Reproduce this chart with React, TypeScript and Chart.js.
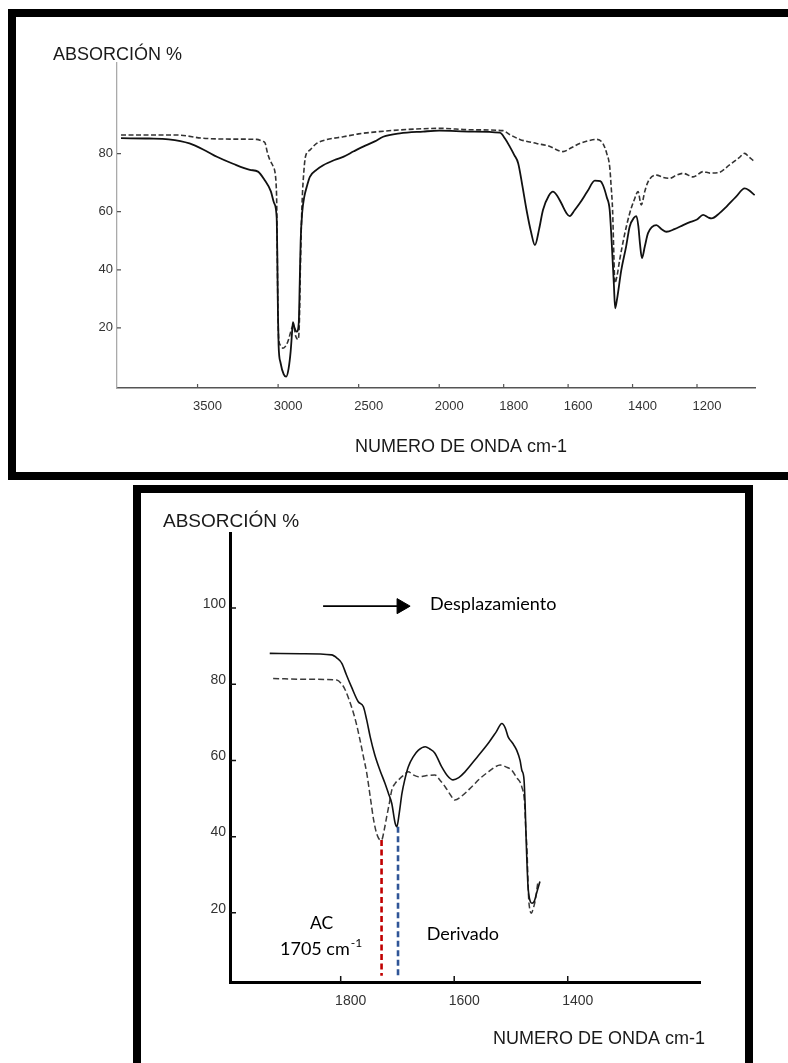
import React, { useEffect, useRef } from 'react';
import { Chart, registerables, LinearScale } from 'chart.js';

Chart.register(...registerables);

// ---------- TOP SPECTRUM (wavenumber axis with scale change at 2000 cm-1) ----------
const topWavenumberMax = 4000;
const topWavenumberMin = 1020;
const topScaleBreak = 2000;
const topXTicks = [3500, 3000, 2500, 2000, 1800, 1600, 1400, 1200];
const topYTicks = [20, 40, 60, 80];

// [wavenumber cm-1, absorción %]
const topSolidSeries: [number, number][] = [
  [3975, 85.3], [3800, 85.2], [3680, 84.9], [3550, 83.5], [3450, 81.0], [3380, 78.9],
  [3280, 76.5], [3175, 74.4], [3125, 73.8], [3085, 71.0], [3045, 67.0], [3025, 63.0],
  [3009, 58.0], [3005, 45.0], [3001, 25.0], [2997, 14.0], [2985, 8.0], [2965, 4.0],
  [2950, 3.2], [2935, 6.0], [2922, 12.0], [2914, 18.0], [2908, 22.0], [2898, 20.0],
  [2885, 18.7], [2872, 21.6], [2866, 35.0], [2860, 50.0], [2850, 60.0], [2838, 65.0],
  [2820, 69.0], [2803, 72.0], [2760, 74.5], [2720, 76.0], [2650, 77.8], [2596, 78.9],
  [2530, 80.8], [2472, 82.4], [2400, 84.2], [2348, 85.8], [2244, 87.0], [2100, 87.6],
  [2000, 87.9], [1900, 87.6], [1812, 87.2], [1795, 85.0], [1781, 82.4], [1767, 79.5],
  [1755, 76.7], [1742, 69.0], [1729, 60.6], [1715, 53.0], [1703, 48.5], [1690, 54.0],
  [1678, 60.6], [1660, 65.5], [1647, 66.9], [1634, 65.5], [1621, 62.9], [1605, 59.5],
  [1595, 58.5], [1580, 60.5], [1564, 62.9], [1540, 67.0], [1517, 70.7], [1500, 70.5],
  [1492, 69.2], [1480, 65.0], [1471, 60.6], [1465, 50.0], [1458, 35.0], [1454, 26.7],
  [1448, 30.0], [1435, 39.9], [1420, 48.0], [1409, 54.8], [1395, 58.0], [1388, 58.5],
  [1382, 55.0], [1377, 49.0], [1371, 44.0], [1362, 48.0], [1352, 52.6], [1326, 55.4],
  [1310, 54.0], [1295, 53.1], [1270, 54.0], [1243, 55.4], [1220, 56.5], [1200, 57.3],
  [1181, 58.9], [1165, 58.0], [1155, 57.7], [1130, 59.5], [1109, 61.7], [1080, 65.0],
  [1052, 68.0], [1040, 67.5], [1021, 65.7],
];

const topDashedSeries: [number, number][] = [
  [3975, 86.4], [3800, 86.4], [3630, 86.4], [3465, 85.3], [3300, 85.0], [3133, 84.9],
  [3095, 84.2], [3082, 83.8], [3065, 80.0], [3051, 77.8], [3030, 75.5], [3020, 73.8],
  [3013, 70.0], [3009, 64.0], [3005, 45.0], [3001, 25.0], [2996, 16.0], [2985, 14.0],
  [2970, 13.0], [2950, 14.0], [2935, 16.0], [2920, 19.0], [2905, 21.0], [2890, 17.0],
  [2876, 16.0], [2868, 22.0], [2862, 40.0], [2852, 62.0], [2840, 74.0], [2830, 79.0],
  [2803, 81.2], [2761, 83.5], [2700, 84.8], [2596, 85.8], [2500, 86.8], [2389, 87.5],
  [2200, 88.3], [2000, 88.7], [1900, 88.2], [1802, 87.9], [1780, 86.5], [1750, 84.9],
  [1698, 83.5], [1660, 82.6], [1616, 80.7], [1590, 82.0], [1564, 83.5], [1535, 84.5],
  [1512, 84.9], [1492, 83.5], [1480, 80.0], [1471, 75.5], [1466, 68.0], [1462, 60.6],
  [1458, 45.0], [1455, 35.4], [1448, 38.0], [1440, 43.4], [1425, 52.0], [1409, 59.4],
  [1395, 64.0], [1383, 66.9], [1373, 62.3], [1362, 67.0], [1352, 70.3], [1326, 72.6],
  [1305, 71.8], [1285, 71.5], [1265, 72.5], [1243, 73.2], [1212, 72.0], [1181, 73.8],
  [1160, 73.3], [1135, 73.4], [1099, 76.1], [1070, 78.5], [1052, 80.1], [1040, 79.0],
  [1021, 77.2],
];

// ---------- BOTTOM SPECTRUM (zoom 2000-1170 cm-1) ----------
const bottomXMax = 1995;
const bottomXMin = 1167;
const bottomXTicks = [1800, 1600, 1400];
const bottomYTicks = [20, 40, 60, 80, 100];

const bottomSolidSeries: [number, number][] = [
  [1925, 88.1], [1870, 88.0], [1816, 87.7], [1806, 86.8], [1798, 85.5], [1790, 82.5],
  [1781, 79.3], [1769, 75.4], [1760, 74.1], [1754, 70.5], [1748, 66.2], [1740, 61.5],
  [1731, 57.5], [1722, 54.0], [1716, 51.4], [1710, 48.7], [1704, 43.5], [1701, 42.6],
  [1697, 46.0], [1692, 51.4], [1687, 55.0], [1681, 58.3], [1672, 61.0], [1663, 62.7],
  [1651, 63.6], [1643, 63.0], [1634, 61.9], [1622, 58.3], [1612, 56.0], [1602, 54.9],
  [1592, 55.5], [1581, 57.0], [1560, 60.8], [1540, 64.5], [1526, 67.5], [1516, 69.7],
  [1510, 68.5], [1505, 66.2], [1497, 64.5], [1490, 62.7], [1484, 60.0], [1481, 57.5],
  [1477, 54.9], [1475, 48.0], [1473, 38.0], [1470, 27.0], [1466, 23.0], [1463, 22.5],
  [1459, 23.0], [1455, 25.1], [1449, 28.2],
];

const bottomDashedSeries: [number, number][] = [
  [1919, 81.5], [1860, 81.3], [1807, 81.1], [1798, 80.0], [1792, 78.5], [1781, 74.1],
  [1773, 70.0], [1766, 65.4], [1760, 61.0], [1754, 56.6], [1748, 50.5], [1742, 44.4],
  [1737, 41.0], [1733, 39.5], [1728, 39.1], [1723, 42.0], [1719, 45.2], [1714, 49.0],
  [1710, 52.2], [1704, 54.0], [1698, 54.9], [1690, 56.0], [1681, 57.0], [1672, 56.2],
  [1663, 55.7], [1650, 56.0], [1634, 56.2], [1625, 54.8], [1616, 53.1], [1606, 50.8],
  [1599, 49.6], [1588, 50.5], [1569, 53.1], [1555, 55.2], [1540, 57.0], [1528, 58.3],
  [1519, 58.8], [1509, 58.3], [1499, 57.5], [1490, 55.5], [1481, 53.1], [1476, 48.7],
  [1474, 42.0], [1472, 37.3], [1469, 24.2], [1467, 21.0], [1464, 19.9], [1461, 21.0],
  [1457, 23.4], [1453, 27.7],
];

// marker lines (AC peak / derivative peak) and shift arrow, in data units
const acMarkerSeries: [number, number][] = [[1728, 39.1], [1728, 3.5]];
const derivMarkerSeries: [number, number][] = [[1699, 42.6], [1699, 2.9]];
const shiftArrowSeries: [number, number][] = [[1831, 100.5], [1693, 100.5]];

// ---------- custom scale: broken wavenumber axis ----------
function brokenPos(w: number) {
  return w >= topScaleBreak
    ? topWavenumberMax - w
    : topWavenumberMax - topScaleBreak + 2 * (topScaleBreak - w);
}
function brokenInv(p: number) {
  const pb = topWavenumberMax - topScaleBreak;
  return p <= pb ? topWavenumberMax - p : topScaleBreak - (p - pb) / 2;
}

class BrokenWavenumberScale extends (LinearScale as any) {
  static id = 'brokenWavenumber';
  static defaults = (LinearScale as any).defaults;
  buildTicks() {
    return topXTicks.map((value) => ({ value }));
  }
  getPixelForValue(value: number) {
    return (this as any).getPixelForDecimal(brokenPos(value) / brokenPos(topWavenumberMin));
  }
  getValueForPixel(pixel: number) {
    return brokenInv((this as any).getDecimalForPixel(pixel) * brokenPos(topWavenumberMin));
  }
}
Chart.register(BrokenWavenumberScale as any);

const toPoints = (s: [number, number][]) => s.map(([x, y]) => ({ x, y }));

function inwardTicks(color: string, width: number, len: number) {
  return {
    id: 'inwardTicks',
    afterDraw(chart: any) {
      const { ctx, chartArea: a } = chart;
      const xs = chart.scales.x;
      const ys = chart.scales.y;
      ctx.save();
      ctx.strokeStyle = color;
      ctx.lineWidth = width;
      ctx.beginPath();
      xs.ticks.forEach((t: any) => {
        const px = xs.getPixelForValue(t.value);
        ctx.moveTo(px, a.bottom);
        ctx.lineTo(px, a.bottom - len);
      });
      ys.ticks.forEach((t: any) => {
        const py = ys.getPixelForValue(t.value);
        ctx.moveTo(a.left, py);
        ctx.lineTo(a.left + len, py);
      });
      ctx.stroke();
      ctx.restore();
    },
  };
}

type PanelText = {
  text: string; x: number; y: number; font: string; color?: string;
  align?: CanvasTextAlign; sup?: string; supFont?: string; supRise?: number;
};
function panelTexts(items: PanelText[]) {
  return {
    id: 'panelTexts',
    afterDraw(chart: any) {
      const ctx = chart.ctx as CanvasRenderingContext2D;
      ctx.save();
      ctx.textBaseline = 'alphabetic';
      for (const t of items) {
        ctx.font = t.font;
        ctx.fillStyle = t.color || '#111';
        ctx.textAlign = t.align || 'left';
        ctx.fillText(t.text, t.x, t.y);
        if (t.sup) {
          const w = ctx.measureText(t.text).width;
          ctx.font = t.supFont || t.font;
          ctx.textAlign = 'left';
          ctx.fillText(t.sup, t.x + w + 1, t.y - (t.supRise || 0));
        }
      }
      ctx.restore();
    },
  };
}

const tickFont = (size: number) => ({ family: '"Liberation Sans", Arial, sans-serif', size });

function topConfig(): any {
  return {
    type: 'line',
    data: {
      datasets: [
        {
          data: toPoints(topSolidSeries), borderColor: '#111', borderWidth: 1.8,
          pointRadius: 0, cubicInterpolationMode: 'monotone', fill: false,
        },
        {
          data: toPoints(topDashedSeries), borderColor: '#333', borderWidth: 1.6,
          borderDash: [5, 2.5], pointRadius: 0, cubicInterpolationMode: 'monotone', fill: false,
        },
      ],
    },
    options: {
      responsive: false,
      animation: false,
      events: [],
      layout: { padding: { left: 61, right: 33, top: 46, bottom: 44 } },
      plugins: { legend: { display: false }, tooltip: { enabled: false } },
      scales: {
        x: {
          type: 'brokenWavenumber', position: 'bottom',
          min: topWavenumberMin, max: topWavenumberMax,
          afterFit: (s: any) => { s.height = 40; },
          grid: { drawOnChartArea: false, drawTicks: false },
          border: { color: '#555', width: 1.5 },
          ticks: {
            autoSkip: false, maxRotation: 0, padding: 11, labelOffset: 10,
            color: '#333', font: tickFont(13), callback: (v: any) => String(v),
          },
        },
        y: {
          type: 'linear', min: -0.7, max: 111.2,
          afterBuildTicks: (s: any) => { s.ticks = topYTicks.map((value) => ({ value })); },
          afterFit: (s: any) => { s.width = 40; },
          grid: { drawOnChartArea: false, drawTicks: false },
          border: { color: '#aaa', width: 1.3 },
          ticks: { padding: 4, color: '#333', font: tickFont(13), callback: (v: any) => String(v) },
        },
      },
    },
    plugins: [
      inwardTicks('#555', 1.2, 4),
      panelTexts([
        { text: 'ABSORCIÓN %', x: 37, y: 42.5, font: '18px "Liberation Sans", Arial, sans-serif', color: '#1a1a1a' },
        { text: 'NUMERO DE ONDA cm-1', x: 339, y: 435, font: '18px "Liberation Sans", Arial, sans-serif', color: '#1a1a1a' },
      ]),
    ],
  };
}

function bottomConfig(): any {
  return {
    type: 'line',
    data: {
      datasets: [
        {
          data: toPoints(bottomSolidSeries), borderColor: '#111', borderWidth: 1.6,
          pointRadius: 0, cubicInterpolationMode: 'monotone', fill: false,
        },
        {
          data: toPoints(bottomDashedSeries), borderColor: '#3a3a3a', borderWidth: 1.5,
          borderDash: [6, 3], pointRadius: 0, cubicInterpolationMode: 'monotone', fill: false,
        },
        {
          data: toPoints(acMarkerSeries), borderColor: '#c00000', borderWidth: 2.6,
          borderDash: [6, 3.5], pointRadius: 0, tension: 0, fill: false,
        },
        {
          data: toPoints(derivMarkerSeries), borderColor: '#2f5597', borderWidth: 2.6,
          borderDash: [6, 3.5], pointRadius: 0, tension: 0, fill: false,
        },
        {
          data: toPoints(shiftArrowSeries), borderColor: '#000', borderWidth: 1.6,
          pointRadius: [0, 8.7], pointStyle: 'triangle', pointRotation: 90,
          pointBackgroundColor: '#000', pointBorderColor: '#000', pointBorderWidth: 1,
          tension: 0, fill: false,
        },
      ],
    },
    options: {
      responsive: false,
      animation: false,
      events: [],
      layout: { padding: { left: 49, right: 45, top: 40, bottom: 41 } },
      plugins: { legend: { display: false }, tooltip: { enabled: false } },
      scales: {
        x: {
          type: 'linear', position: 'bottom', reverse: true,
          min: bottomXMin, max: bottomXMax,
          afterBuildTicks: (s: any) => { s.ticks = bottomXTicks.map((value) => ({ value })); },
          afterFit: (s: any) => { s.height = 40; },
          grid: { drawOnChartArea: false, drawTicks: false },
          border: { color: '#000', width: 3 },
          ticks: {
            autoSkip: false, maxRotation: 0, padding: 11, labelOffset: 10,
            color: '#333', font: tickFont(14), callback: (v: any) => String(v),
          },
        },
        y: {
          type: 'linear', min: 1.84, max: 119.7,
          afterBuildTicks: (s: any) => { s.ticks = bottomYTicks.map((value) => ({ value })); },
          afterFit: (s: any) => { s.width = 40; },
          grid: { drawOnChartArea: false, drawTicks: false },
          border: { color: '#000', width: 3 },
          ticks: {
            padding: 4, labelOffset: -4, color: '#333', font: tickFont(14),
            callback: (v: any) => String(v),
          },
        },
      },
    },
    plugins: [
      inwardTicks('#111', 1.5, 6),
      panelTexts([
        { text: 'ABSORCIÓN %', x: 22, y: 34, font: '19px "Liberation Sans", Arial, sans-serif', color: '#1a1a1a' },
        { text: 'NUMERO DE ONDA cm-1', x: 352, y: 550.5, font: '18px "Liberation Sans", Arial, sans-serif', color: '#1a1a1a' },
        { text: 'Desplazamiento', x: 289, y: 116.5, font: '18px Lato, "Open Sans", sans-serif', color: '#000' },
        { text: 'Derivado', x: 285.7, y: 447, font: '18px Lato, "Open Sans", sans-serif', color: '#000' },
        { text: 'AC', x: 180.7, y: 436.3, font: '17.5px Lato, "Open Sans", sans-serif', color: '#000', align: 'center' },
        {
          text: '1705 cm', x: 139, y: 462, font: '18px Lato, "Open Sans", sans-serif', color: '#000',
          sup: '-1', supFont: '12px Lato, "Open Sans", sans-serif', supRise: 8,
        },
      ]),
    ],
  };
}

export default function App() {
  const topRef = useRef<HTMLCanvasElement>(null);
  const botRef = useRef<HTMLCanvasElement>(null);

  useEffect(() => {
    const top = new Chart(topRef.current as HTMLCanvasElement, topConfig());
    const bot = new Chart(botRef.current as HTMLCanvasElement, bottomConfig());
    return () => {
      top.destroy();
      bot.destroy();
    };
  }, []);

  return (
    <div
      style={{
        position: 'absolute', left: 0, top: 0, width: 788, height: 1063,
        overflow: 'hidden', background: '#fff',
      }}
    >
      <div
        style={{
          position: 'absolute', left: 8, top: 9, width: 800, height: 471,
          border: '8px solid #000', boxSizing: 'border-box',
        }}
      />
      <div
        style={{
          position: 'absolute', left: 133, top: 485, width: 620, height: 700,
          border: '8px solid #000', boxSizing: 'border-box',
        }}
      />
      <canvas
        ref={topRef}
        width={772}
        height={455}
        style={{ position: 'absolute', left: 16, top: 17, width: 772, height: 455 }}
      />
      <canvas
        ref={botRef}
        width={604}
        height={570}
        style={{ position: 'absolute', left: 141, top: 493, width: 604, height: 570 }}
      />
    </div>
  );
}
